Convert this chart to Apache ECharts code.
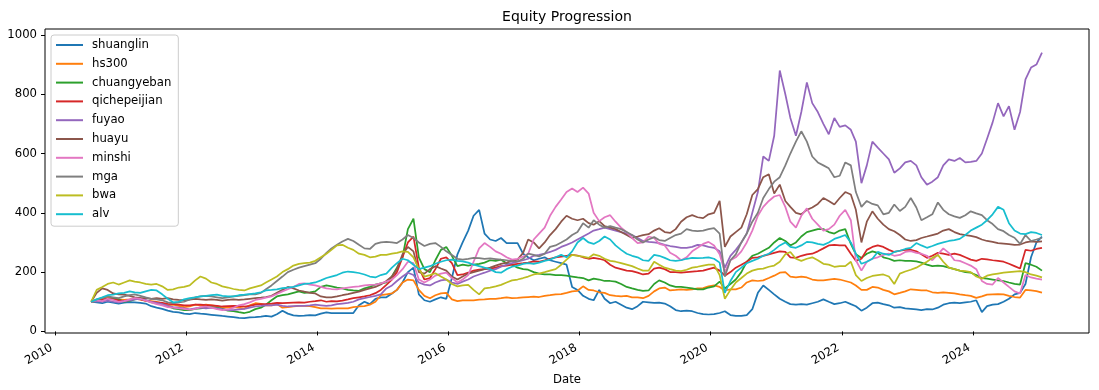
<!DOCTYPE html>
<html>
<head>
<meta charset="utf-8">
<script src="https://cdn.jsdelivr.net/npm/echarts@6/dist/echarts.min.js"></script>
<style>
html,body{margin:0;padding:0;background:#fff;}
#chart{width:1099px;height:390px;}
</style>
</head>
<body>
<div id="chart"></div>
<script>
// Monthly observation dates (day 20 of each month)
const months = [
'2010-07','2010-08','2010-09','2010-10','2010-11','2010-12',
'2011-01','2011-02','2011-03','2011-04','2011-05','2011-06','2011-07','2011-08','2011-09','2011-10','2011-11','2011-12',
'2012-01','2012-02','2012-03','2012-04','2012-05','2012-06','2012-07','2012-08','2012-09','2012-10','2012-11','2012-12',
'2013-01','2013-02','2013-03','2013-04','2013-05','2013-06','2013-07','2013-08','2013-09','2013-10','2013-11','2013-12',
'2014-01','2014-02','2014-03','2014-04','2014-05','2014-06','2014-07','2014-08','2014-09','2014-10','2014-11','2014-12',
'2015-01','2015-02','2015-03','2015-04','2015-05','2015-06','2015-07','2015-08','2015-09','2015-10','2015-11','2015-12',
'2016-01','2016-02','2016-03','2016-04','2016-05','2016-06','2016-07','2016-08','2016-09','2016-10','2016-11','2016-12',
'2017-01','2017-02','2017-03','2017-04','2017-05','2017-06','2017-07','2017-08','2017-09','2017-10','2017-11','2017-12',
'2018-01','2018-02','2018-03','2018-04','2018-05','2018-06','2018-07','2018-08','2018-09','2018-10','2018-11','2018-12',
'2019-01','2019-02','2019-03','2019-04','2019-05','2019-06','2019-07','2019-08','2019-09','2019-10','2019-11','2019-12',
'2020-01','2020-02','2020-03','2020-04','2020-05','2020-06','2020-07','2020-08','2020-09','2020-10','2020-11','2020-12',
'2021-01','2021-02','2021-03','2021-04','2021-05','2021-06','2021-07','2021-08','2021-09','2021-10','2021-11','2021-12',
'2022-01','2022-02','2022-03','2022-04','2022-05','2022-06','2022-07','2022-08','2022-09','2022-10','2022-11','2022-12',
'2023-01','2023-02','2023-03','2023-04','2023-05','2023-06','2023-07','2023-08','2023-09','2023-10','2023-11','2023-12',
'2024-01','2024-02','2024-03','2024-04','2024-05','2024-06','2024-07','2024-08','2024-09','2024-10','2024-11','2024-12',
'2025-01'
];

const shuanglin = [
100,98,95,100,97,94,
97,99,98,96,94,85,80,76,70,66,64,60,
58,62,60,58,56,54,52,50,48,46,45,47,
48,50,52,50,58,70,60,54,52,53,55,54,
60,64,62,62,62,62,62,88,100,92,110,115,
115,128,140,165,200,215,125,105,100,108,115,110,
180,260,300,340,390,410,330,310,305,315,298,298,
298,262,250,240,245,250,240,235,230,225,150,140,
120,110,105,140,110,95,100,90,80,75,85,100,
98,96,97,94,85,72,68,70,68,62,58,57,
58,62,68,55,52,52,55,75,130,155,140,125,
110,100,92,90,92,90,95,100,108,100,92,95,
100,92,85,70,80,95,97,92,88,80,82,78,
76,74,72,75,74,80,90,95,97,95,98,100,
105,65,85,90,92,100,110,125,130,160,250,300,
320
];
const hs300 = [
100,103,110,116,112,108,
106,108,110,108,103,102,100,95,88,90,86,82,
84,90,88,90,88,85,80,80,82,80,77,88,
95,93,88,88,92,80,82,84,86,86,85,82,
78,78,77,78,78,78,82,84,85,90,100,122,
125,128,140,165,175,172,140,120,112,122,128,130,
108,102,105,105,105,107,108,110,110,112,115,112,
113,115,116,117,116,120,122,125,126,130,135,137,
152,140,138,132,130,122,120,118,120,115,115,112,
120,135,145,148,138,140,142,140,142,145,146,152,
155,150,138,142,142,148,165,172,170,172,180,188,
198,200,185,182,185,182,175,172,172,175,177,175,
170,165,155,140,140,150,148,140,135,125,130,135,
142,140,138,138,132,130,132,130,128,125,122,120,
113,118,124,125,126,125,120,116,114,140,138,136,
131
];
const chuangyeban = [
100,103,105,110,113,108,
100,103,108,112,105,98,96,92,85,78,75,72,
72,76,78,80,82,80,76,70,68,65,62,66,
75,80,90,105,118,122,125,130,135,130,132,135,
150,155,152,148,145,140,138,137,145,150,158,162,
165,185,215,250,345,380,250,210,200,240,275,285,
255,220,225,222,225,228,232,240,238,242,230,225,
215,210,208,200,195,192,192,190,190,188,185,182,
180,172,178,175,170,170,168,160,150,145,140,137,
138,160,172,165,155,150,150,148,145,142,142,148,
152,168,145,160,175,200,235,255,262,272,282,300,
315,305,290,300,320,335,340,345,345,335,330,340,
345,295,260,248,262,270,265,250,245,238,240,238,
238,236,232,225,220,222,220,215,210,205,200,198,
190,180,178,175,172,170,165,160,158,230,225,218,
205
];
const qichepeijian = [
100,104,108,110,108,105,
102,106,110,108,104,100,98,96,93,92,90,88,
88,90,90,89,88,86,84,85,86,85,84,86,
90,92,92,94,96,95,96,97,98,97,100,102,
105,100,102,101,104,108,112,115,118,122,129,140,
157,175,200,250,300,320,215,175,180,210,245,250,
230,190,192,198,205,208,210,212,215,220,222,225,
228,230,232,236,235,240,245,250,252,255,258,256,
250,245,248,245,240,225,215,210,205,203,198,192,
195,212,215,210,200,200,198,200,202,203,205,210,
215,205,188,200,215,225,235,248,250,255,260,265,
270,268,250,248,255,260,262,270,280,290,292,290,
290,262,238,245,275,285,290,285,275,268,272,275,
275,270,260,248,255,265,262,258,262,258,250,242,
238,245,243,240,238,235,228,220,212,275,272,278,
282
];
const fuyao = [
100,102,100,104,100,98,
102,105,108,110,106,100,96,92,86,82,80,78,
74,78,80,78,80,78,75,72,72,74,76,80,
84,86,88,88,90,86,84,85,86,86,88,90,
88,86,88,92,94,96,100,108,112,116,120,125,
145,155,170,185,198,190,165,158,155,165,172,175,
165,160,168,175,185,192,198,205,210,218,225,230,
235,240,245,255,258,262,268,275,285,292,300,310,
320,330,340,345,350,345,340,335,330,325,315,305,
302,300,298,292,288,285,282,282,285,292,290,285,
282,270,215,255,275,300,330,400,470,590,575,660,
880,800,720,660,740,840,770,740,700,665,720,690,
695,680,640,500,560,640,620,600,580,535,550,570,
575,560,520,495,505,520,560,580,575,585,570,572,
575,600,650,705,770,725,760,680,740,850,890,900,
940
];
const huayu = [
100,130,145,140,128,125,
124,120,115,112,112,110,112,110,112,108,106,105,
107,110,108,106,108,106,104,106,108,106,108,110,
112,114,116,120,130,140,150,145,138,134,130,128,
118,115,115,118,122,126,130,134,140,145,150,158,
170,185,210,260,285,270,200,195,210,220,212,205,
185,175,185,195,200,205,210,215,222,228,232,238,
242,265,310,300,280,300,325,345,370,390,380,375,
380,365,360,372,355,350,345,335,325,315,320,325,
328,340,348,335,332,345,370,385,392,385,382,395,
400,440,285,320,335,350,395,460,480,520,530,465,
495,440,420,400,395,410,418,430,450,440,428,450,
470,462,410,300,370,405,380,360,345,338,325,310,
305,308,315,320,325,330,340,345,335,328,325,322,
318,310,305,302,298,296,294,292,293,300,304,302,
304
];
const minshi = [
100,105,102,110,106,100,
102,108,112,110,104,98,92,88,82,80,78,76,
73,76,82,84,80,75,72,74,80,88,92,98,
106,110,114,118,126,135,142,150,160,162,158,155,
150,145,143,142,145,148,150,152,155,157,158,162,
168,175,190,210,235,230,175,165,175,188,195,198,
180,165,175,190,235,280,298,285,270,262,250,242,
245,252,262,310,330,350,390,420,445,470,482,470,
485,465,400,372,385,392,370,350,335,315,298,300,
320,315,295,290,265,255,240,250,270,282,295,302,
290,260,200,240,250,270,300,340,390,420,440,455,
460,420,370,350,390,415,380,360,340,345,360,390,
410,375,240,205,235,245,250,258,262,255,258,268,
271,265,262,255,240,260,280,265,240,238,230,222,
210,170,160,158,180,165,150,135,128,190,182,178,
175
];
const mga = [
100,108,112,118,115,112,
118,122,125,120,115,110,108,105,98,95,98,100,
108,115,118,120,118,115,112,115,118,120,122,125,
125,130,142,155,170,185,200,208,215,220,225,230,
245,265,280,292,303,312,305,292,280,278,295,300,
302,300,298,310,325,315,300,288,295,298,285,270,
258,245,242,245,248,247,245,246,244,242,240,237,
236,245,262,258,253,262,285,290,300,310,325,335,
365,350,375,360,350,355,350,345,335,325,310,300,
310,318,308,305,315,325,330,345,340,338,340,345,
348,330,185,240,260,300,330,370,400,450,480,505,
520,560,600,640,675,640,590,570,560,550,520,525,
570,560,470,420,440,430,425,395,400,428,406,420,
450,418,375,385,395,435,410,395,388,383,392,405,
398,392,375,362,345,338,325,316,295,325,305,310,
316
];
const bwa = [
100,140,150,160,165,158,
165,172,168,165,160,158,160,152,140,142,148,150,
155,172,185,178,165,160,152,148,143,140,138,145,
150,155,165,175,185,200,210,222,228,230,232,238,
250,262,275,290,292,282,275,262,258,250,252,258,
258,262,265,270,268,250,210,185,190,196,185,175,
160,152,155,157,140,125,145,148,152,157,165,172,
175,180,185,192,195,200,205,210,225,242,258,255,
252,248,260,255,245,238,235,230,225,220,212,205,
205,235,225,215,210,205,203,208,215,218,222,225,
225,190,110,140,165,180,195,205,210,212,218,222,
235,260,268,245,238,245,250,240,228,225,218,220,
220,235,190,170,180,187,190,192,185,160,195,202,
208,215,225,235,248,258,235,215,210,205,203,200,
185,178,188,192,195,198,200,202,203,200,192,188,
182
];
const alv = [
100,108,115,122,124,128,
130,135,132,130,135,140,138,125,110,98,100,108,
112,115,118,120,122,124,120,118,118,122,124,126,
128,132,138,140,142,146,148,150,155,160,162,165,
172,180,185,190,198,202,200,197,192,185,182,190,
195,215,230,245,240,225,210,215,220,228,235,240,
242,238,236,232,225,220,215,210,200,198,210,218,
222,228,230,228,232,238,242,250,258,250,270,300,
315,300,295,305,320,310,290,275,262,255,250,240,
238,258,255,248,240,238,240,245,248,247,248,250,
245,232,130,170,200,215,230,238,245,255,262,275,
290,300,285,282,290,302,300,295,292,300,312,318,
325,300,262,228,235,245,268,262,258,268,272,278,
282,298,290,282,288,295,300,305,308,312,325,340,
350,360,375,395,420,410,365,340,330,328,335,332,
325
];

const seriesNames = ['shuanglin','hs300','chuangyeban','qichepeijian','fuyao','huayu','minshi','mga','bwa','alv'];
const seriesValues = [shuanglin, hs300, chuangyeban, qichepeijian, fuyao, huayu, minshi, mga, bwa, alv];
const colors = ['#1f77b4','#ff7f0e','#2ca02c','#d62728','#9467bd','#8c564b','#e377c2','#7f7f7f','#bcbd22','#17becf'];
const yTicks = [0, 200, 400, 600, 800, 1000];
const xTickYears = [2010, 2012, 2014, 2016, 2018, 2020, 2022, 2024];

const times = months.map(function (m) {
  const p = m.split('-');
  return Date.UTC(+p[0], +p[1] - 1, 20);
});
const xTicks = xTickYears.map(function (y) { return Date.UTC(y, 0, 1); });

const FONT = 'DejaVu Sans';
const chart = echarts.init(document.getElementById('chart'), null, { renderer: 'canvas' });

const option = {
  animation: false,
  backgroundColor: '#ffffff',
  color: colors,
  grid: {
    left: 45, right: 10, top: 29, bottom: 57,
    show: true, borderColor: '#000000', borderWidth: 1,
    backgroundColor: 'transparent',
    containLabel: false
  },
  xAxis: {
    type: 'value',
    min: Date.UTC(2009, 10, 5),
    max: Date.UTC(2025, 9, 9),
    splitLine: { show: false },
    axisLine: { show: false },
    axisTick: { show: true, length: 4, inside: false, lineStyle: { color: '#000', width: 1 }, customValues: xTicks },
    axisLabel: {
      customValues: xTicks,
      rotate: 30,
      margin: 12,
      padding: [0, 4, 0, 0],
      fontFamily: FONT, fontSize: 11.7, color: '#000',
      formatter: function (v) { return String(new Date(v).getUTCFullYear()); }
    }
  },
  yAxis: {
    type: 'value',
    min: -5.4,
    max: 1020,
    splitLine: { show: false },
    axisLine: { show: false },
    axisTick: { show: true, length: 4, lineStyle: { color: '#000', width: 1 }, customValues: yTicks },
    axisLabel: {
      customValues: yTicks,
      margin: 8,
      fontFamily: FONT, fontSize: 11.7, color: '#000',
      formatter: function (v) { return String(Math.round(v)); }
    }
  },
  legend: {
    orient: 'vertical',
    left: 51, top: 35,
    padding: [3, 7, 5, 5],
    itemWidth: 27, itemHeight: 14, itemGap: 4.8,
    icon: 'path://M0,0H27V2H0Z',
    backgroundColor: 'rgba(255,255,255,0.8)',
    borderColor: '#cccccc', borderWidth: 1, borderRadius: 3,
    textStyle: { fontFamily: FONT, fontSize: 11.7, color: '#000', lineHeight: 14, padding: [0, 0, 0, 4] },
    selectedMode: false,
    data: seriesNames
  },
  graphic: [
    { type: 'text', x: 567, y: 17, silent: true,
      style: { text: 'Equity Progression', fontFamily: FONT, fontSize: 14, fill: '#000', align: 'center', verticalAlign: 'middle' } },
    { type: 'text', x: 567, y: 380, silent: true,
      style: { text: 'Date', fontFamily: FONT, fontSize: 11.7, fill: '#000', align: 'center', verticalAlign: 'middle' } }
  ],
  series: seriesNames.map(function (name, i) {
    return {
      name: name,
      type: 'line',
      data: times.map(function (t, j) { return [t, seriesValues[i][j]]; }),
      showSymbol: false,
      symbol: 'none',
      lineStyle: { width: 1.75, color: colors[i] },
      itemStyle: { color: colors[i] },
      emphasis: { disabled: true },
      z: 2 + i
    };
  })
};
chart.setOption(option);
</script>
</body>
</html>
